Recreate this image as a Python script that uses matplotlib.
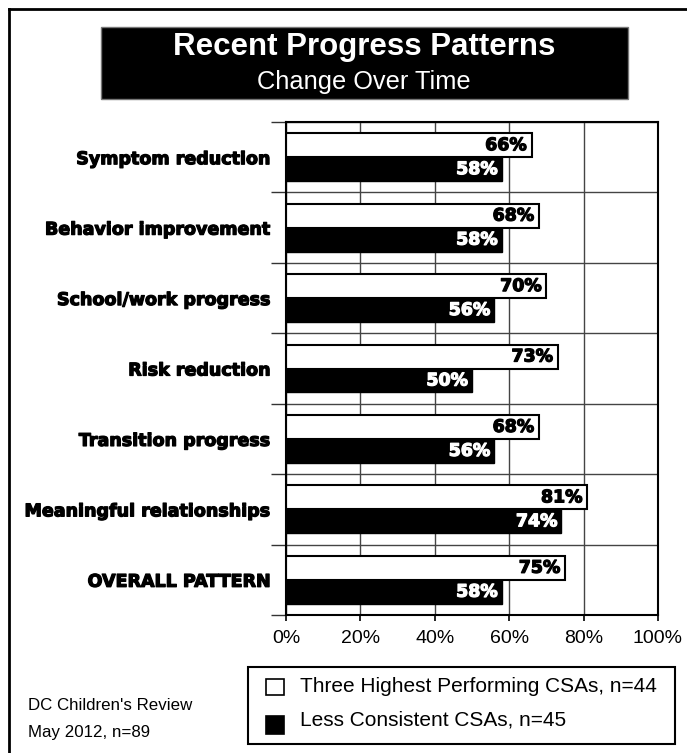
import matplotlib as mpl
mpl.use('Agg')
import matplotlib.pyplot as plt
import matplotlib.patheffects as pe
from matplotlib.patches import Rectangle
from matplotlib.lines import Line2D
import numpy as np

categories = ['Symptom reduction', 'Behavior improvement', 'School/work progress',
              'Risk reduction', 'Transition progress', 'Meaningful relationships',
              'OVERALL PATTERN']
highest = [66, 68, 70, 73, 68, 81, 75]
consistent = [58, 58, 56, 50, 56, 74, 58]
xticks = [0, 20, 40, 60, 80, 100]
series_names = ['Three Highest Performing CSAs, n=44', 'Less Consistent CSAs, n=45']

regular = 'Liberation Sans'
heavy = 'DejaVu Sans'

W, H = 687, 753
fig = plt.figure(figsize=(W / 100, H / 100), dpi=100)


def fx(px):
	return px / W


def fy(py):
	return 1 - py / H


def thick(color):
	# fake a black weight by stroking the glyphs in their own colour
	return [pe.withStroke(linewidth=0.9, foreground=color)]


# outer frame (left and top edges only)
fig.add_artist(Line2D([fx(9), fx(9)], [fy(9), 0], color='black', lw=2, transform=fig.transFigure))
fig.add_artist(Line2D([fx(9), 1], [fy(9), fy(9)], color='black', lw=2, transform=fig.transFigure))

# title block
fig.add_artist(Rectangle((fx(101), fy(99)), fx(628) - fx(101), fy(27) - fy(99),
                         facecolor='black', edgecolor='#777777', lw=1, transform=fig.transFigure))
fig.text(fx(364), fy(47), 'Recent Progress Patterns', color='white', fontsize=22.5,
         fontweight='bold', family=regular, ha='center', va='center')
fig.text(fx(364), fy(82), 'Change Over Time', color='white', fontsize=18.3,
         family=regular, ha='center', va='center')

ax = fig.add_axes([fx(286), fy(615), fx(658) - fx(286), fy(122) - fy(615)])
y = np.arange(len(categories))
h = 0.34
ax.barh(y - h / 2, highest, height=h, color='white', edgecolor='black', lw=1.5, zorder=3)
ax.barh(y + h / 2, consistent, height=h, color='black', edgecolor='black', lw=1, zorder=3)

for i in range(len(categories)):
	ax.text(highest[i] - 1.3, y[i] - h / 2, '%d%%' % highest[i], ha='right', va='center',
	        color='black', fontsize=12.5, fontweight='bold', family=heavy, zorder=4,
	        path_effects=thick('black'))
	ax.text(consistent[i] - 1.1, y[i] + h / 2, '%d%%' % consistent[i], ha='right', va='center',
	        color='white', fontsize=12.5, fontweight='bold', family=heavy, zorder=4,
	        path_effects=thick('white'))

ax.set_xlim(0, 100)
ax.set_ylim(len(categories) - 0.5, -0.5)
ax.set_xticks(xticks)
ax.set_xticklabels(['%d%%' % t for t in xticks], fontsize=14, family=regular)
ax.tick_params(axis='x', direction='out', length=4, width=1.2, pad=7)

# group boundaries carry the ticks and gridlines, labels sit at the centres
ax.set_yticks(np.arange(-0.5, len(categories)), minor=False)
ax.set_yticklabels([])
ax.set_yticks(y, minor=True)
ax.set_yticklabels(categories, minor=True, fontsize=12.6, fontweight='bold', family=heavy)
for lab in ax.get_yticklabels(minor=True):
	lab.set_path_effects(thick('black'))
ax.tick_params(axis='y', which='major', direction='out', length=11, width=1, color='#333333')
ax.tick_params(axis='y', which='minor', length=0, pad=11)

ax.grid(True, which='major', color='#444444', lw=1, zorder=0)
ax.set_axisbelow(True)
for s in ax.spines.values():
	s.set_linewidth(1.5)
	s.set_zorder(5)

# legend box
fig.add_artist(Rectangle((fx(248), fy(744)), fx(675) - fx(248), fy(667) - fy(744),
                         facecolor='white', edgecolor='black', lw=1.5, transform=fig.transFigure))
fig.add_artist(Rectangle((fx(266), fy(695)), fx(284) - fx(266), fy(679) - fy(695),
                         facecolor='white', edgecolor='black', lw=1.2, transform=fig.transFigure))
fig.add_artist(Rectangle((fx(266), fy(734)), fx(284) - fx(266), fy(716) - fy(734),
                         facecolor='black', edgecolor='black', lw=1.2, transform=fig.transFigure))
fig.text(fx(300), fy(686), series_names[0], fontsize=15, family=regular, va='center')
fig.text(fx(300), fy(720), series_names[1], fontsize=15, family=regular, va='center')

fig.text(fx(28), fy(705), "DC Children's Review", fontsize=12.2, family=regular, va='center')
fig.text(fx(28), fy(732), 'May 2012, n=89', fontsize=12.2, family=regular, va='center')

fig.savefig('out.png', dpi=100)
